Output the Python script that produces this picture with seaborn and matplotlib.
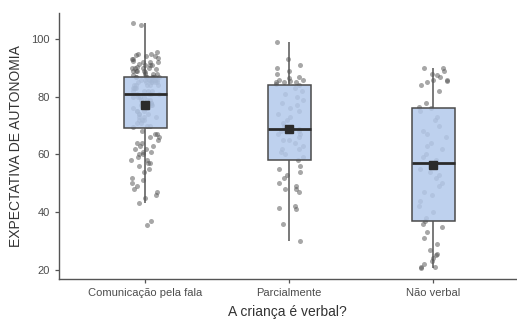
import numpy as np
import pandas as pd
import matplotlib
matplotlib.use("Agg")
import matplotlib.pyplot as plt
import seaborn as sns

# categories on the x axis
categorias = ["Comunicação pela fala", "Parcialmente", "Não verbal"]

# expectativa de autonomia per group
fala = [35.5, 37, 43, 45, 46, 47, 48, 49, 50, 51, 52, 54, 55, 56, 57, 57, 58, 58,
        59, 60, 60, 61, 61, 62, 62, 63, 63, 64, 64, 65, 66, 66, 67, 67, 68,
        69.5, 70, 70, 71, 71, 72, 72, 72, 73, 73, 73, 74, 74, 74, 75, 75, 75,
        76, 76, 76, 77, 77, 77, 78, 78, 78, 79, 79, 79, 80, 80, 80, 80, 81, 81,
        81, 81, 82, 82, 82, 82, 83, 83, 83, 83, 84, 84, 84, 84, 84, 85, 85, 85,
        85, 85, 85, 86, 86, 86, 86, 86, 86, 86, 87, 87, 87, 87, 87, 87, 87,
        87, 87.5, 88, 88, 88, 88.5, 89, 89, 89, 89, 89.5, 90, 90, 90, 90, 90.5,
        91, 91, 91, 91.5, 92, 92, 92, 92.5, 93, 93, 93.5, 94, 94, 94.5, 95, 95,
        95.5, 105, 105.5]
parcial = [30, 36, 41, 41.5, 42, 47, 48, 48, 49, 50, 52, 53, 54, 55, 56, 58,
           59, 60, 61, 62, 62, 63, 64, 65, 65, 66, 67, 67, 68, 68, 69,
           70, 71, 72, 73, 74, 75, 76, 77, 78, 79, 80, 81, 82, 83, 84,
           84.5, 85, 85, 85, 85.5, 86, 86, 86.5, 87, 88, 89, 90, 91, 93, 99]
nao_verbal = [20.5, 21, 21, 22, 23, 24, 25, 25.5, 27, 29, 31, 33, 35, 36, 37,
              38, 40, 42, 44, 46, 47, 49, 50, 52, 53, 54, 55, 56, 57,
              58, 59, 60, 62, 63, 64, 66, 67, 68, 70, 72, 73, 75, 76,
              76.5, 78, 82, 84, 85, 85.5, 86, 86, 87, 87.5, 88, 89, 90, 90]

df = pd.DataFrame({
    "grupo": [categorias[0]] * len(fala) + [categorias[1]] * len(parcial)
             + [categorias[2]] * len(nao_verbal),
    "valor": fala + parcial + nao_verbal,
})

sns.set_theme(style="ticks")
plt.rcParams["font.family"] = ["Liberation Sans", "DejaVu Sans"]

np.random.seed(3)
fig = plt.figure(figsize=(5.17, 3.24), dpi=100)
ax = fig.add_axes([0.1135, 0.138, 0.8865, 0.823])

sns.stripplot(data=df, x="grupo", y="valor", order=categorias, jitter=0.1,
              color="#505050", alpha=0.5, size=3.6, linewidth=0, ax=ax, zorder=1)
sns.boxplot(data=df, x="grupo", y="valor", order=categorias, width=0.3,
            showfliers=False, showmeans=True, linewidth=1.1, linecolor="#4a4a4a",
            boxprops=dict(facecolor=(0.70, 0.79, 0.92, 0.85), zorder=2),
            whiskerprops=dict(color="#555555", zorder=2),
            capprops=dict(visible=False),
            medianprops=dict(color="#2b2b2b", linewidth=2, zorder=3),
            meanprops=dict(marker="s", markerfacecolor="#2b2b2b",
                           markeredgecolor="#2b2b2b", markersize=6, zorder=4),
            ax=ax)

ax.set_ylim(16.7, 109.2)
ax.set_xlim(-0.6, 2.58)
ax.set_yticks([20, 40, 60, 80, 100])
ax.set_xlabel("A criança é verbal?", fontsize=10, color="#333333", labelpad=5)
ax.set_ylabel("EXPECTATIVA DE AUTONOMIA", fontsize=10, color="#333333", labelpad=6)
ax.tick_params(axis="both", labelsize=8, colors="#555555", length=3, width=0.9,
               labelcolor="#4d4d4d")
sns.despine(ax=ax)
for s in ("left", "bottom"):
    ax.spines[s].set_color("#555555")
    ax.spines[s].set_linewidth(1)

fig.savefig("out.png", dpi=100)
